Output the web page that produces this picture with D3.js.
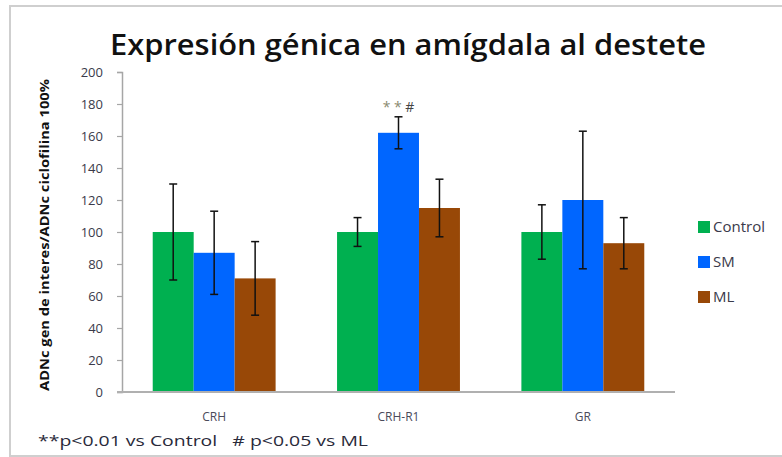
<!DOCTYPE html>
<html>
<head>
<meta charset="utf-8">
<script src="https://cdn.jsdelivr.net/npm/d3@7"></script>
<style>
  html, body { margin: 0; padding: 0; background: #fff; }
  svg { display: block; }
  text { font-family: "Open Sans", "Liberation Sans", sans-serif; }
</style>
</head>
<body>
<svg id="chart" width="782" height="457"></svg>
<script>
// Gene expression in amygdala at weaning (% of control)
const categories = ["CRH", "CRH-R1", "GR"];
const seriesNames = ["Control", "SM", "ML"];
const controlValues = [100, 100, 100];
const smValues = [87, 162, 120];
const mlValues = [71, 115, 93];
const controlErrors = [30, 9, 17];
const smErrors = [26, 10, 43];
const mlErrors = [23, 18, 16];
const yTicks = [0, 20, 40, 60, 80, 100, 120, 140, 160, 180, 200];
const colors = ["#00b050", "#0066ff", "#984807"];

const values = [controlValues, smValues, mlValues];
const errors = [controlErrors, smErrors, mlErrors];

const svg = d3.select("#chart");

// outer frame
svg.append("rect")
  .attr("x", 10).attr("y", 6).attr("width", 800).attr("height", 450)
  .attr("fill", "none").attr("stroke", "#cfcfcf").attr("stroke-width", 2);

const x0 = d3.scaleBand().domain(categories).range([122, 675])
  .paddingInner(1 / 3).paddingOuter(1 / 6);
const x1 = d3.scaleBand().domain(seriesNames).range([0, x0.bandwidth()]).padding(0);
const y = d3.scaleLinear().domain([0, 200]).range([392, 72]);

// title
svg.append("text")
  .attr("x", 408).attr("y", 55)
  .attr("text-anchor", "middle")
  .attr("textLength", 596).attr("lengthAdjust", "spacingAndGlyphs")
  .attr("font-size", 29).attr("font-weight", 600).attr("fill", "#111")
  .text("Expresión génica en amígdala al destete");

// y axis
const yAxis = svg.append("g")
  .attr("transform", "translate(122,0)")
  .call(d3.axisLeft(y).tickValues(yTicks).tickSize(5).tickPadding(14));
yAxis.select(".domain").attr("stroke", "#a6a6a6").attr("stroke-width", 1.5);
yAxis.selectAll(".tick line").attr("stroke", "#a6a6a6").attr("stroke-width", 1.2);
yAxis.selectAll(".tick text")
  .attr("font-size", 13).attr("fill", "#3a3a4a")
  .style("font-family", "'Open Sans', sans-serif");

// y axis title
svg.append("text")
  .attr("transform", "translate(49,235) rotate(-90)")
  .attr("text-anchor", "middle")
  .attr("textLength", 312).attr("lengthAdjust", "spacingAndGlyphs")
  .attr("font-size", 12).attr("font-weight", "bold").attr("fill", "#111")
  .text("ADNc gen de interes/ADNc ciclofilina  100%");

// bars
const groups = svg.append("g").selectAll("g")
  .data(categories)
  .join("g")
  .attr("transform", d => `translate(${x0(d)},0)`);

seriesNames.forEach((s, si) => {
  groups.append("rect")
    .attr("x", x1(s))
    .attr("width", x1.bandwidth())
    .attr("y", (d, ci) => y(values[si][ci]))
    .attr("height", (d, ci) => y(0) - y(values[si][ci]))
    .attr("fill", colors[si]);
});

// error bars
seriesNames.forEach((s, si) => {
  const cx = x1(s) + x1.bandwidth() / 2;
  const eb = groups.append("g").attr("stroke", "#111").attr("stroke-width", 1.5);
  eb.append("line")
    .attr("x1", cx).attr("x2", cx)
    .attr("y1", (d, ci) => y(values[si][ci] + errors[si][ci]))
    .attr("y2", (d, ci) => y(values[si][ci] - errors[si][ci]));
  [1, -1].forEach(sign => {
    eb.append("line")
      .attr("x1", cx - 4).attr("x2", cx + 4)
      .attr("y1", (d, ci) => y(values[si][ci] + sign * errors[si][ci]))
      .attr("y2", (d, ci) => y(values[si][ci] + sign * errors[si][ci]));
  });
});

// baseline
svg.append("line")
  .attr("x1", 117).attr("x2", 675)
  .attr("y1", y(0)).attr("y2", y(0))
  .attr("stroke", "#b0b0b0").attr("stroke-width", 2);

// category labels
svg.append("g").selectAll("text")
  .data(categories)
  .join("text")
  .attr("x", d => x0(d) + x0.bandwidth() / 2)
  .attr("y", 421)
  .attr("text-anchor", "middle")
  .attr("font-size", 12).attr("fill", "#4a4a5a")
  .text(d => d);

// significance marks above CRH-R1 / SM
const sigX = x0("CRH-R1") + x1("SM") + x1.bandwidth() / 2;
const sig = svg.append("text")
  .attr("x", sigX).attr("y", 112)
  .attr("text-anchor", "middle")
  .attr("font-size", 14);
sig.append("tspan").attr("fill", "#8a8a70").text("* * ");
sig.append("tspan").attr("fill", "#444").text("#");

// legend
const legend = svg.append("g").attr("transform", "translate(698,227)");
seriesNames.forEach((s, i) => {
  const g = legend.append("g").attr("transform", `translate(0,${i * 35})`);
  g.append("rect").attr("x", 0).attr("y", -6).attr("width", 12).attr("height", 12)
    .attr("fill", colors[i]);
  g.append("text").attr("x", 15).attr("y", 5)
    .attr("font-size", 15).attr("fill", "#3a3a4a")
    .text(s);
});

// footnote
svg.append("text")
  .attr("x", 38).attr("y", 446)
  .attr("font-size", 14).attr("fill", "#2a2a3a")
  .attr("textLength", 330).attr("lengthAdjust", "spacingAndGlyphs")
  .attr("xml:space", "preserve")
  .text("**p<0.01 vs Control   # p<0.05 vs ML");
</script>
</body>
</html>
